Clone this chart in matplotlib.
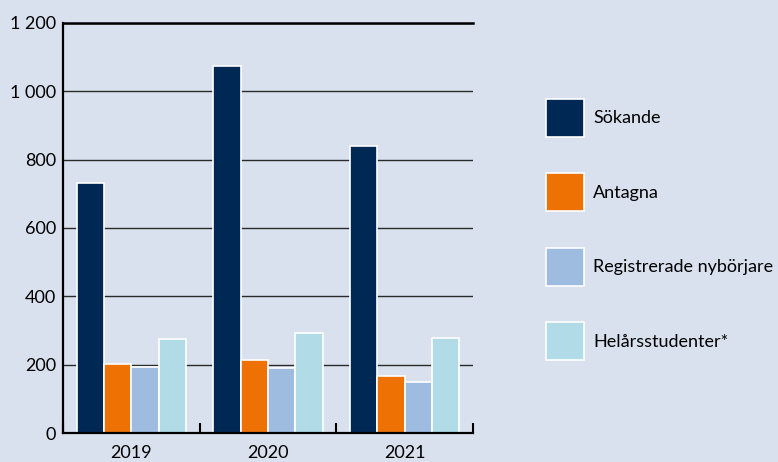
import matplotlib
matplotlib.use("Agg")
import matplotlib.pyplot as plt
from matplotlib.patches import Patch
from matplotlib.ticker import FuncFormatter, FixedLocator
import numpy as np

years = ["2019", "2020", "2021"]
series_names = ["Sökande", "Antagna", "Registrerade nybörjare", "Helårsstudenter*"]
sokande = [731, 1074, 841]
antagna = [203, 214, 166]
registrerade = [194, 189, 150]
helars = [276, 294, 277]
colors = ["#002855", "#EE7203", "#9DBCE0", "#B1DCE7"]
yticks = [0, 200, 400, 600, 800, 1000, 1200]

bg = "#DAE1EE"
plt.rcParams['font.family'] = ['Lato', 'DejaVu Sans']

fig = plt.figure(figsize=(7.78, 4.62), dpi=100, facecolor=bg)
W, H = 778, 462
ax = fig.add_axes([63 / W, 1 - 433 / H, (473 - 63) / W, (433 - 23) / H])
ax.set_facecolor(bg)

x = np.arange(len(years))
width = 0.2
data = [sokande, antagna, registrerade, helars]
for i, (vals, c, name) in enumerate(zip(data, colors, series_names)):
    ax.bar(x + (i - 1.5) * width, vals, width, color=c, edgecolor="white",
           linewidth=1.2, label=name, zorder=3)

ax.set_xlim(-0.5, 2.5)
ax.set_ylim(0, 1200)
ax.set_yticks(yticks)
ax.yaxis.set_major_formatter(FuncFormatter(lambda v, p: f"{int(v):,}".replace(",", " ")))
ax.grid(axis="y", color="#2a2a2a", linewidth=1.0, zorder=1)
ax.set_axisbelow(True)
ax.axhline(1200, color="black", linewidth=1.8, clip_on=False, zorder=2)

ax.set_xticks(x)
ax.set_xticklabels(years)
ax.xaxis.set_minor_locator(FixedLocator([-0.5, 0.5, 1.5, 2.5]))
ax.tick_params(axis="x", which="major", length=0, pad=9, labelsize=13, colors="black")
ax.tick_params(axis="x", which="minor", length=7, width=1.5, direction="in", color="black")
ax.tick_params(axis="y", length=0, pad=5, labelsize=13)

for s in ["top", "right"]:
    ax.spines[s].set_visible(False)
for s in ["left", "bottom"]:
    ax.spines[s].set_linewidth(1.6)
    ax.spines[s].set_color("black")
    ax.spines[s].set_zorder(4)

fs = 13
handles = [Patch(facecolor=c, edgecolor="white", linewidth=1.2) for c in colors]
leg = fig.legend(handles, series_names, loc="upper left",
                 bbox_to_anchor=(539 / W, 1 - 91.5 / H), frameon=False,
                 fontsize=fs, handlelength=27.36 / fs,
                 handleheight=(27.36 - 0.245 * fs) / (0.65 * fs),
                 handletextpad=6.5 / fs, labelspacing=26.3 / fs, borderaxespad=0)

fig.savefig("out.png", dpi=100, facecolor=bg)
